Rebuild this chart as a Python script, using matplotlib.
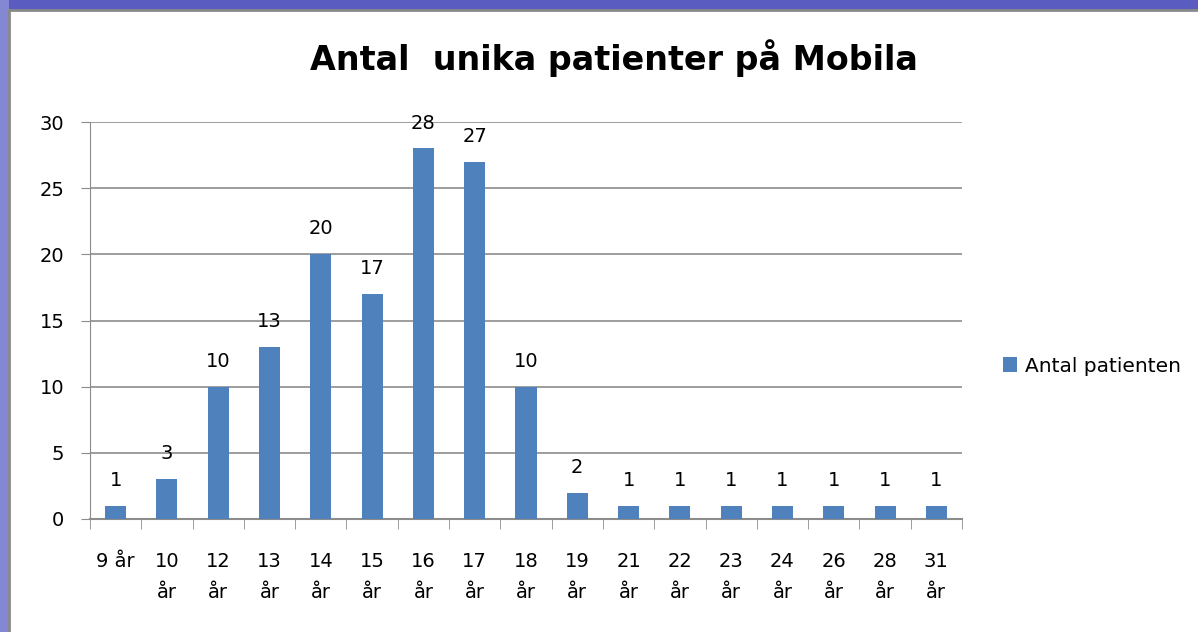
import matplotlib
matplotlib.use("Agg")
import matplotlib.pyplot as plt
from matplotlib.patches import Rectangle

categories = ["9 år", "10\når", "12\når", "13\når", "14\når", "15\når", "16\når", "17\når",
              "18\når", "19\når", "21\når", "22\når", "23\når", "24\når", "26\når", "28\når", "31\når"]
values = [1, 3, 10, 13, 20, 17, 28, 27, 10, 2, 1, 1, 1, 1, 1, 1, 1]
series_name = "Antal patienten"
title = "Antal  unika patienter på Mobila"

plt.rcParams['font.family'] = ['DejaVu Sans']

fig = plt.figure(figsize=(11.98, 6.32), dpi=100)
fig.patch.set_facecolor("white")
# purple slide background on top and left
fig.patches.append(Rectangle((0, 1 - 10/632), 1, 10/632, transform=fig.transFigure,
                             facecolor="#5a5cc0", edgecolor="none", zorder=0))
fig.patches.append(Rectangle((0, 0), 9/1198, 1, transform=fig.transFigure,
                             facecolor="#8487d2", edgecolor="none", zorder=0))
fig.add_artist(plt.Line2D([9/1198, 9/1198], [0, 1 - 10/632], transform=fig.transFigure,
                          color="#8a8a8a", lw=2))
fig.add_artist(plt.Line2D([9/1198, 1], [1 - 10/632, 1 - 10/632], transform=fig.transFigure,
                          color="#8a8a8a", lw=2))

ax = fig.add_axes([90/1198, 1 - 519/632, 872/1198, 397/632])
x = range(len(categories))
bars = ax.bar(x, values, width=0.41, color="#4f81bd", label=series_name, zorder=3)
for xi, v in zip(x, values):
    ax.text(xi, v + 1.5, str(v), ha="center", va="baseline", fontsize=14)

ax.set_xlim(-0.5, len(categories) - 0.5)
ax.set_ylim(0, 30)
ax.set_yticks(range(0, 31, 5))
ax.yaxis.grid(True, color="#8c8c8c", lw=1.2, zorder=0)
for s in ["top", "right"]:
    ax.spines[s].set_visible(False)
ax.spines["left"].set_color("#8c8c8c")
ax.spines["bottom"].set_color("#8c8c8c")
ax.spines["bottom"].set_linewidth(1.5)
ax.set_xticks(list(x))
ax.set_xticklabels(categories, fontsize=14, linespacing=1.75)
ax.set_xticks([i - 0.5 for i in range(len(categories) + 1)], minor=True)
ax.tick_params(axis="x", which="major", length=0, pad=24)
ax.tick_params(axis="x", which="minor", length=7, color="#8c8c8c", direction="out")
ax.tick_params(axis="y", length=6.5, color="#8c8c8c", labelsize=14, pad=12)

fig.text(614/1198, 1 - 70/632, title, ha="center", va="baseline", fontsize=24, fontweight="bold")

fig.legend(handles=[bars], labels=[series_name], loc="center left",
           bbox_to_anchor=(985/1198, 1 - 366/632), frameon=False, fontsize=14.5,
           handlelength=0.7, handleheight=0.7, handletextpad=0.4)

fig.savefig("out.png", dpi=100)
